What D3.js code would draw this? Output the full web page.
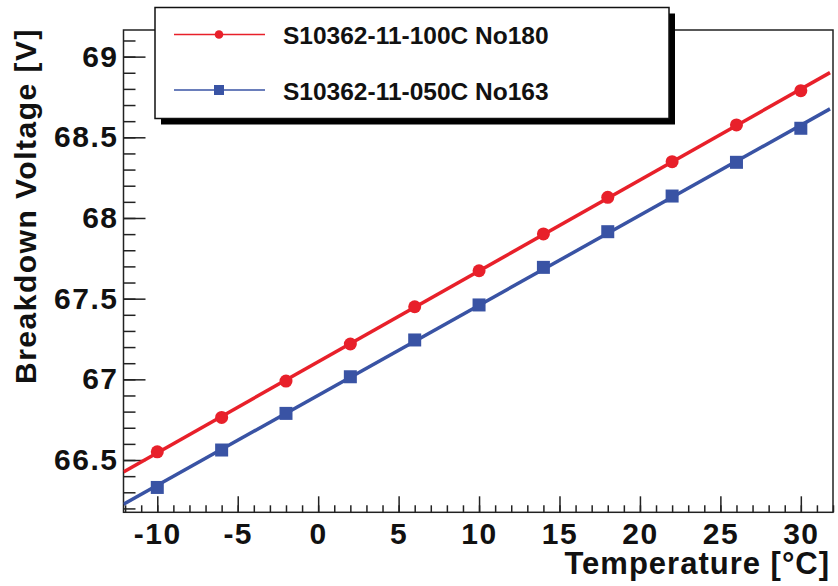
<!DOCTYPE html>
<html>
<head>
<meta charset="utf-8">
<script src="https://cdn.jsdelivr.net/npm/d3@7"></script>
<style>
  html, body { margin: 0; padding: 0; background: #fff; }
  svg { display: block; }
  text { font-family: "Liberation Sans", Arial, Helvetica, sans-serif; font-weight: bold; fill: #111; }
</style>
</head>
<body>
<svg id="chart" width="838" height="586"></svg>
<script>
// Measurement temperatures [°C]
const temperatures = [-10, -6, -2, 2, 6, 10, 14, 18, 22, 26, 30];
// Breakdown voltage [V] for each MPPC
const vbrNo180 = [66.551, 66.764, 66.989, 67.219, 67.450, 67.673, 67.901, 68.128, 68.349, 68.577, 68.789];
const vbrNo163 = [66.330, 66.562, 66.789, 67.016, 67.244, 67.461, 67.694, 67.915, 68.136, 68.345, 68.556];
const seriesNames = ["S10362-11-100C No180", "S10362-11-050C No163"];
const xTicks = [-10, -5, 0, 5, 10, 15, 20, 25, 30];
const yTicks = [66.5, 67, 67.5, 68, 68.5, 69];

const frame = { left: 123.5, right: 833, top: 30, bottom: 512.3 };

const svg = d3.select("#chart");

const x = d3.scaleLinear().domain([-12.1, 32.0]).range([frame.left, frame.right]);
const y = d3.scaleLinear().domain([66.176, 69.165]).range([frame.bottom, frame.top]);

const series = [
  { name: seriesNames[0], values: vbrNo180, color: "#e8202a", marker: "circle" },
  { name: seriesNames[1], values: vbrNo163, color: "#3953a4", marker: "square" }
];

// least-squares straight-line fit (pol1)
function linFit(xs, ys) {
  const n = xs.length;
  const mx = d3.mean(xs), my = d3.mean(ys);
  let sxy = 0, sxx = 0;
  for (let i = 0; i < n; i++) { sxy += (xs[i] - mx) * (ys[i] - my); sxx += (xs[i] - mx) ** 2; }
  const b = sxy / sxx;
  return { a: my - b * mx, b };
}

function styleTickText(g) {
  g.selectAll("text")
    .style("font-family", "'Liberation Sans', Arial, sans-serif")
    .style("font-weight", "bold").style("font-size", "30px")
    .style("letter-spacing", "1.5px").attr("fill", "#111");
}

// frame
svg.append("rect")
  .attr("x", frame.left).attr("y", frame.top)
  .attr("width", frame.right - frame.left).attr("height", frame.bottom - frame.top)
  .attr("fill", "none").attr("stroke", "#222").attr("stroke-width", 1.5);

// x axis: major + minor ticks pointing inward
const xMinor = d3.range(-12, 33, 1);
svg.append("g").attr("transform", `translate(0,${frame.bottom})`)
  .call(d3.axisBottom(x).tickValues(xMinor).tickSize(-7).tickFormat(""))
  .call(g => g.select(".domain").remove())
  .call(g => g.selectAll("line").attr("stroke", "#222").attr("stroke-width", 1.5));
svg.append("g").attr("transform", `translate(0,${frame.bottom})`)
  .call(d3.axisBottom(x).tickValues(xTicks).tickSize(-16).tickPadding(10).tickFormat(d => String(d)))
  .call(g => g.select(".domain").remove())
  .call(g => g.selectAll("line").attr("stroke", "#222").attr("stroke-width", 1.5))
  .call(styleTickText);

// y axis
const yMinor = d3.range(66.2, 69.15, 0.1).map(v => Math.round(v * 10) / 10);
svg.append("g").attr("transform", `translate(${frame.left},0)`)
  .call(d3.axisLeft(y).tickValues(yMinor).tickSize(-12).tickFormat(""))
  .call(g => g.select(".domain").remove())
  .call(g => g.selectAll("line").attr("stroke", "#222").attr("stroke-width", 1.5));
svg.append("g").attr("transform", `translate(${frame.left},0)`)
  .call(d3.axisLeft(y).tickValues(yTicks).tickSize(-22).tickPadding(5).tickFormat(d => String(d)))
  .call(g => g.select(".domain").remove())
  .call(g => g.selectAll("line").attr("stroke", "#222").attr("stroke-width", 1.5))
  .call(styleTickText);

// axis titles
svg.append("text")
  .attr("x", 830).attr("y", 574)
  .attr("text-anchor", "end")
  .style("font-size", "31px").style("letter-spacing", "1px")
  .text("Temperature [°C]");
svg.append("text")
  .attr("transform", "translate(36,28) rotate(-90)")
  .attr("text-anchor", "end")
  .style("font-size", "30px").style("letter-spacing", "1.5px")
  .text("Breakdown Voltage [V]");

// fit lines and data points
const plot = svg.append("g");
plot.append("clipPath").attr("id", "frameClip").append("rect")
  .attr("x", frame.left).attr("y", frame.top)
  .attr("width", frame.right - frame.left).attr("height", frame.bottom - frame.top);

const xs = x.domain();
const xEnd = x.invert(frame.right - 3);
series.forEach(s => {
  const f = linFit(temperatures, s.values);
  plot.append("line")
    .attr("clip-path", "url(#frameClip)")
    .attr("x1", x(xs[0])).attr("y1", y(f.a + f.b * xs[0]))
    .attr("x2", x(xEnd)).attr("y2", y(f.a + f.b * xEnd))
    .attr("stroke", s.color).attr("stroke-width", 3.5);

  const pts = temperatures.map((t, i) => [t, s.values[i]]);
  if (s.marker === "circle") {
    plot.selectAll(null).data(pts).enter().append("circle")
      .attr("cx", d => x(d[0])).attr("cy", d => y(d[1])).attr("r", 6.5)
      .attr("fill", s.color);
  } else {
    const sz = 13;
    plot.selectAll(null).data(pts).enter().append("rect")
      .attr("x", d => x(d[0]) - sz / 2).attr("y", d => y(d[1]) - sz / 2)
      .attr("width", sz).attr("height", sz)
      .attr("fill", s.color);
  }
});

// legend with drop shadow
const leg = { x: 155, y: 7.5, w: 514, h: 111 };
svg.append("rect")
  .attr("x", leg.x + 6).attr("y", leg.y + 6).attr("width", leg.w).attr("height", leg.h)
  .attr("fill", "#000");
svg.append("rect")
  .attr("x", leg.x).attr("y", leg.y).attr("width", leg.w).attr("height", leg.h)
  .attr("fill", "#fff").attr("stroke", "#111").attr("stroke-width", 1.5);

const legRows = [34.5, 90];
series.forEach((s, i) => {
  const ry = legRows[i];
  svg.append("line")
    .attr("x1", 174).attr("x2", 265).attr("y1", ry).attr("y2", ry)
    .attr("stroke", s.color).attr("stroke-width", 1.6);
  if (s.marker === "circle") {
    svg.append("circle").attr("cx", 219).attr("cy", ry).attr("r", 4.3).attr("fill", s.color);
  } else {
    svg.append("rect").attr("x", 214).attr("y", ry - 5).attr("width", 10).attr("height", 10).attr("fill", s.color);
  }
  svg.append("text")
    .attr("x", 283).attr("y", ry + 9.5)
    .style("font-size", "24.5px")
    .text(s.name);
});
</script>
</body>
</html>
